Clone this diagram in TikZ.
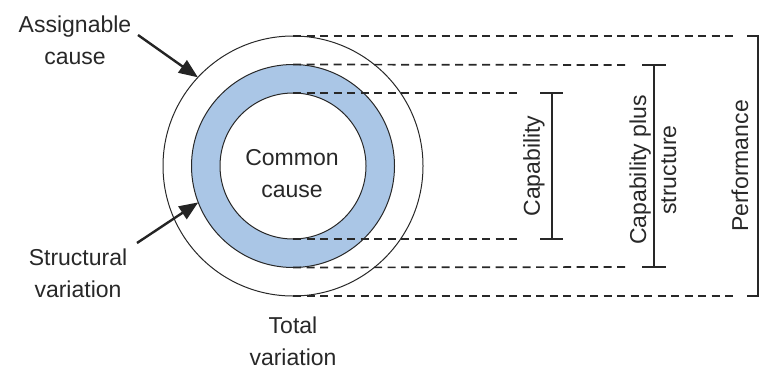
\documentclass[tikz,border=0pt]{standalone}
\usepackage{fontspec}
\setmainfont{Liberation Sans}
\usetikzlibrary{arrows.meta}
\definecolor{ringblue}{RGB}{170,198,230}
\definecolor{ink}{RGB}{40,40,40}
\begin{document}
\begin{tikzpicture}[x=1pt,y=-1pt,
 lbl/.style={font=\fontsize{23}{32}\selectfont, align=center, text=ink, inner sep=0},
 ring/.style={circle, draw=ink, line width=1pt, inner sep=0, outer sep=0},
 guide/.style={draw=ink, line width=1.7pt, dash pattern=on 8pt off 5.5pt},
 bar/.style={draw=ink, line width=1.6pt},
 pointer/.style={draw=ink!90!black, line width=2.4pt, -{Triangle[length=19pt,width=15pt]}}]
\useasboundingbox (0,0) rectangle (759,372);
\coordinate (c) at (293,166);
\node[ring, minimum size=260pt] (outer) at (c) {};
\node[ring, fill=ringblue, minimum size=203pt] (mid) at (c) {};
\node[ring, fill=white, minimum size=146pt] (inner) at (c) {};
\node[lbl] (common) at (292,174) {Common\\cause};
% guide line ends
\coordinate (g1) at (738,36);
\coordinate (g2) at (628,65);
\coordinate (g3) at (522,93);
\coordinate (g4) at (522,239);
\coordinate (g5) at (628,267);
\coordinate (g6) at (738,296);
\draw[guide] (outer.north) -- (g1);
\draw[guide] (mid.north) -- (g2);
\draw[guide] (inner.north) -- (g3);
\draw[guide] (inner.south) -- (g4);
\draw[guide] (mid.south) -- (g5);
\draw[guide] (outer.south) -- (g6);
% brackets
\coordinate (capT) at (552,93);
\coordinate (capB) at (552,239);
\coordinate (cpsT) at (654,65);
\coordinate (cpsB) at (654,267);
\coordinate (perT) at (758,36);
\coordinate (perB) at (758,296);
\draw[bar] (capT) -- (capB);
\draw[bar] ([xshift=-12pt]capT) -- ([xshift=11pt]capT);
\draw[bar] ([xshift=-12pt]capB) -- ([xshift=11pt]capB);
\draw[bar] (cpsT) -- (cpsB);
\draw[bar] ([xshift=-12pt]cpsT) -- ([xshift=12pt]cpsT);
\draw[bar] ([xshift=-12pt]cpsB) -- ([xshift=12pt]cpsB);
\draw[bar] (perT) -- (perB);
\draw[bar] ([xshift=-11pt]perT) -- ([xshift=2pt]perT);
\draw[bar] ([xshift=-11pt]perB) -- ([xshift=2pt]perB);
\node[lbl, rotate=90] (cap) at (534,166) {Capability};
\node[lbl, rotate=90, font=\fontsize{23}{30}\selectfont] (cps) at (653,170) {Capability plus\\structure};
\node[lbl, rotate=90] (perf) at (740,166) {Performance};
% labels and pointers
\node[lbl] (assign) at (75,40) {Assignable\\cause};
\node[lbl] (struct) at (78,273) {Structural\\variation};
\node[lbl] (total) at (293,341) {Total\\variation};
\coordinate (a1) at (138,35);
\coordinate (s1) at (137,243);
\draw[pointer] (a1) -- (outer.137);
\draw[pointer] (s1) -- (mid.201);
\end{tikzpicture}
\end{document}
